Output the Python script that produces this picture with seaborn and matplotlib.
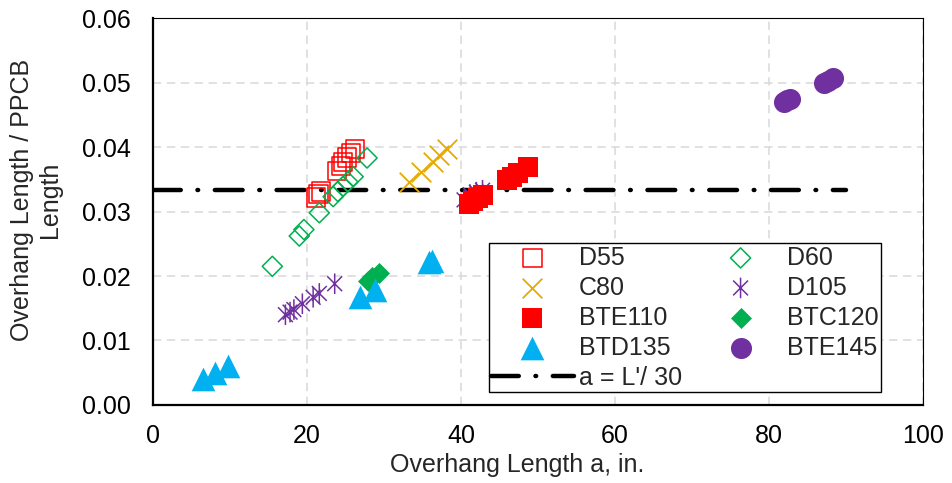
import numpy as np
import pandas as pd
import matplotlib
matplotlib.use("Agg")
import matplotlib.pyplot as plt
from matplotlib.path import Path
import seaborn as sns

# Overhang length a (in.) and overhang / PPCB length ratio for each girder series
d55_x = [21.2, 21.5, 21.8, 23.9, 24.4, 24.7, 25.2, 25.7, 26.2]
d55_y = [0.0322, 0.0327, 0.0331, 0.0363, 0.0371, 0.0377, 0.0384, 0.0391, 0.0397]

d60_x = [15.5, 19.0, 19.6, 21.6, 23.4, 24.0, 24.7, 25.3, 26.0, 27.8]
d60_y = [0.0215, 0.0262, 0.0272, 0.0298, 0.0323, 0.0331, 0.0339, 0.0346, 0.0354, 0.0383]

c80_x = [33.2, 34.8, 36.4, 37.2, 38.2]
c80_y = [0.0345, 0.0361, 0.0377, 0.0387, 0.0397]

d105_x = [17.2, 17.8, 18.3, 19.4, 20.8, 21.6, 23.6, 40.4, 41.2, 42.0, 42.8]
d105_y = [0.0140, 0.0144, 0.0148, 0.0157, 0.0167, 0.0173, 0.0188, 0.0318, 0.0326, 0.0330, 0.0333]

bte110_x = [41.0, 41.6, 42.2, 42.9, 46.0, 46.6, 47.4, 48.7]
bte110_y = [0.0312, 0.0316, 0.0321, 0.0326, 0.0349, 0.0354, 0.0360, 0.0369]

btc120_x = [27.9, 28.5, 29.4]
btc120_y = [0.0193, 0.0198, 0.0205]

btd135_x = [6.5, 8.1, 9.7, 26.9, 28.8, 35.9, 36.3]
btd135_y = [0.0040, 0.0050, 0.0060, 0.0167, 0.0178, 0.0221, 0.0223]

bte145_x = [81.9, 82.3, 82.7, 87.1, 87.7, 88.3]
bte145_y = [0.0470, 0.0473, 0.0475, 0.0499, 0.0503, 0.0507]

# Limit line a = L'/30, drawn from a = 0 to 90 in.
limit_x = [0, 90]
limit_y = [1 / 30, 1 / 30]

x_ticks = [0, 20, 40, 60, 80, 100]
y_ticks = [0.00, 0.01, 0.02, 0.03, 0.04, 0.05, 0.06]

sns.set_style("white")
plt.rcParams["font.family"] = ["Liberation Sans", "DejaVu Sans"]
plt.rcParams["lines.scale_dashes"] = False

FS = 18
RED = "#FF0000"
GREEN = "#00B050"
GOLD = "#E6AA00"
PURPLE = "#7030A0"
BLUE = "#00B0F0"

# Asterisk marker: vertical bar crossed by an X
star_path = Path(
    [(0, -1), (0, 1), (-0.72, -0.72), (0.72, 0.72), (-0.72, 0.72), (0.72, -0.72)],
    [Path.MOVETO, Path.LINETO, Path.MOVETO, Path.LINETO, Path.MOVETO, Path.LINETO],
)

fig = plt.figure(figsize=(9.52, 4.83), dpi=100)
ax = fig.add_axes([0.1607, 0.1615, 0.8088, 0.8012])

series = [
    ("D55", d55_x, d55_y, dict(marker="s", s=175, facecolor="none", edgecolor=RED, linewidth=1.1)),
    ("D60", d60_x, d60_y, dict(marker="D", s=105, facecolor="none", edgecolor=GREEN, linewidth=1.1)),
    ("C80", c80_x, c80_y, dict(marker="x", s=200, color=GOLD, linewidth=1.3)),
    ("D105", d105_x, d105_y, dict(marker=star_path, s=220, facecolor="none", edgecolor=PURPLE, linewidth=1.1)),
    ("BTE110", bte110_x, bte110_y, dict(marker="s", s=190, color=RED, edgecolor=RED, linewidth=0)),
    ("BTC120", btc120_x, btc120_y, dict(marker="D", s=115, color=GREEN, edgecolor=GREEN, linewidth=0)),
    ("BTD135", btd135_x, btd135_y, dict(marker="^", s=290, color=BLUE, edgecolor=BLUE, linewidth=0)),
    ("BTE145", bte145_x, bte145_y, dict(marker="o", s=230, color=PURPLE, edgecolor=PURPLE, linewidth=0)),
]

for name, xs, ys, style in series:
    df = pd.DataFrame({"a": xs, "ratio": ys})
    sns.scatterplot(data=df, x="a", y="ratio", ax=ax, label=name, zorder=3, **style)

limit_df = pd.DataFrame({"a": limit_x, "ratio": limit_y})
sns.lineplot(data=limit_df, x="a", y="ratio", ax=ax, color="black", linewidth=3.2,
             linestyle=(0, (20, 12, 0.5, 12)), dash_capstyle="round",
             label="a = L'/ 30", zorder=2)

ax.set_xlim(0, 100)
ax.set_ylim(0, 0.06)
ax.set_xticks(x_ticks)
ax.set_yticks(y_ticks)
ax.set_xticklabels([f"{v:d}" for v in x_ticks])
ax.set_yticklabels([f"{v:.2f}" for v in y_ticks])
ax.tick_params(axis="both", labelsize=FS, colors="#808080", labelcolor="black",
               length=5, width=1.2, direction="out")
ax.tick_params(axis="y", pad=11)
ax.tick_params(axis="x", pad=9)

ax.grid(True, color="#D9D9D9", linestyle=(0, (6, 4)), linewidth=1.1)
ax.set_axisbelow(True)

for side in ["left", "bottom"]:
    ax.spines[side].set_color("black")
    ax.spines[side].set_linewidth(1.6)
for side in ["top", "right"]:
    ax.spines[side].set_color("black")
    ax.spines[side].set_linewidth(0.8)

ax.set_xlabel("Overhang Length a, in.", fontsize=FS)
ax.xaxis.set_label_coords(0.473, -0.125)
ax.set_ylabel("Overhang Length / PPCB\nLength", fontsize=FS)
ax.yaxis.set_label_coords(-0.118, 0.53)

handles, labels = ax.get_legend_handles_labels()
lookup = dict(zip(labels, handles))
order = ["D55", "C80", "BTE110", "BTD135", "a = L'/ 30", "D60", "D105", "BTC120", "BTE145"]
leg = ax.legend([lookup[k] for k in order], order, ncol=2, loc="upper left",
                bbox_to_anchor=(0.436, 0.4186), fontsize=FS, frameon=True,
                fancybox=False, edgecolor="black", framealpha=1,
                handlelength=3.3, handletextpad=0.2, labelspacing=0.24,
                columnspacing=0.7, borderpad=0.1, borderaxespad=0)
leg.get_frame().set_linewidth(1.0)

fig.savefig("out.png", dpi=100)
